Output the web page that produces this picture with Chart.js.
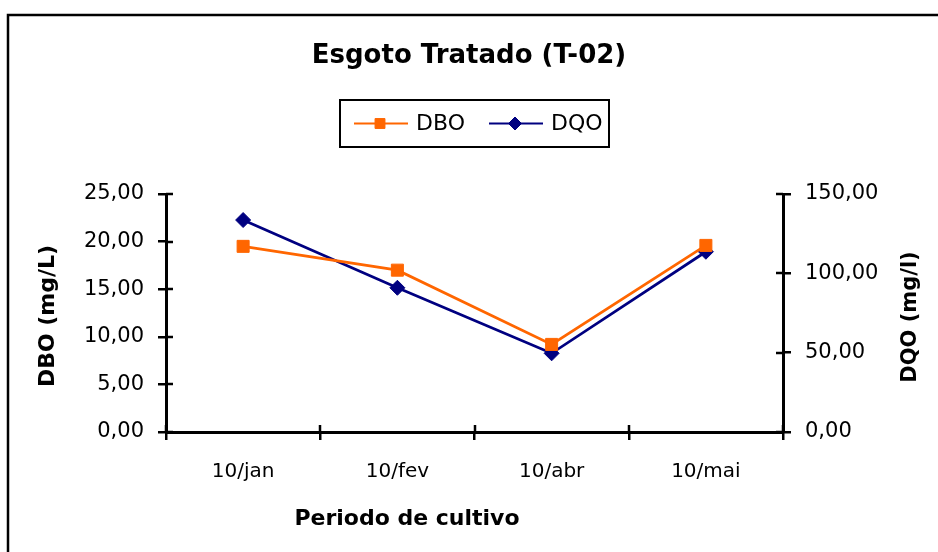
<!DOCTYPE html>
<html>
<head>
<meta charset="utf-8">
<script src="https://cdn.jsdelivr.net/npm/chart.js@4.4.1/dist/chart.umd.min.js"></script>
<style>
  html, body { margin: 0; padding: 0; background: #fff; overflow: hidden; }
  #wrap { width: 938px; height: 552px; position: relative; }
</style>
</head>
<body>
<div id="wrap"><canvas id="c" width="938" height="552"></canvas></div>
<script>
// Sampling dates and measured values
const categories = ['10/jan', '10/fev', '10/abr', '10/mai'];
const dboValues = [19.5, 17.0, 9.2, 19.6];       // mg/L, left axis
const dqoValues = [133.6, 90.9, 49.6, 113.6];    // mg/l, right axis
const dboTicks = [0, 5, 10, 15, 20, 25];
const dqoTicks = [0, 50, 100, 150];

const chartTitle = 'Esgoto Tratado (T-02)';
const xTitle = 'Periodo de cultivo';
const yTitle = 'DBO (mg/L)';
const y1Title = 'DQO (mg/l)';

const FONT = 'DejaVu Sans';
const fmt = v => Number(v).toFixed(2).replace('.', ',');

// Outer frame, axis titles and the boxed legend
const decorations = {
  id: 'decorations',
  beforeDraw(chart) {
    const ctx = chart.ctx;
    ctx.save();
    ctx.strokeStyle = '#000';
    ctx.lineWidth = 2.5;
    ctx.beginPath();
    ctx.moveTo(8, 560);
    ctx.lineTo(8, 15);
    ctx.lineTo(950, 15);
    ctx.stroke();
    ctx.restore();
  },
  afterDraw(chart) {
    const ctx = chart.ctx, a = chart.chartArea;
    ctx.save();
    ctx.fillStyle = '#000';
    ctx.font = 'bold 22px "' + FONT + '"';
    ctx.textAlign = 'center';
    ctx.textBaseline = 'middle';
    // x title
    ctx.fillText(xTitle, a.left + 241, a.bottom + 87);
    // left y title
    ctx.save();
    ctx.translate(48, (a.top + a.bottom) / 2 + 3);
    ctx.rotate(-Math.PI / 2);
    ctx.fillText(yTitle, 0, 0);
    ctx.restore();
    // right y title
    ctx.save();
    ctx.translate(911, (a.top + a.bottom) / 2 + 4);
    ctx.rotate(-Math.PI / 2);
    ctx.font = 'bold 21px "' + FONT + '"';
    ctx.fillText(y1Title, 0, 0);
    ctx.restore();

    // legend box
    const w = 269, h = 47;
    const x0 = Math.round((a.left + a.right) / 2 - w / 2);
    const y0 = a.top - 94;
    const cy = y0 + h / 2;
    ctx.strokeStyle = '#000';
    ctx.lineWidth = 2;
    ctx.strokeRect(x0, y0, w, h);
    const items = [{ ds: chart.data.datasets[0], lx: 14, r: 7 }, { ds: chart.data.datasets[1], lx: 149, r: 6.5 }];
    ctx.font = '22px "' + FONT + '"';
    ctx.textAlign = 'left';
    items.forEach(it => {
      const ds = it.ds;
      ctx.strokeStyle = ds.borderColor;
      ctx.lineWidth = 2;
      ctx.beginPath();
      ctx.moveTo(x0 + it.lx, cy);
      ctx.lineTo(x0 + it.lx + 54, cy);
      ctx.stroke();
      ctx.fillStyle = ds.pointBackgroundColor;
      ctx.strokeStyle = ds.pointBorderColor;
      ctx.lineWidth = 1;
      Chart.helpers.drawPoint(ctx, { pointStyle: ds.pointStyle, radius: it.r, rotation: 0, borderWidth: 1 }, x0 + it.lx + 26, cy);
      ctx.fillStyle = '#000';
      ctx.fillText(ds.label, x0 + it.lx + 62, cy + 1);
    });
    ctx.restore();
  }
};

// Tick marks that cross the axis lines
const crossTicks = {
  id: 'crossTicks',
  beforeDatasetsDraw(chart) {
    const ctx = chart.ctx, a = chart.chartArea;
    const sy = chart.scales.y, sy1 = chart.scales.y1, sx = chart.scales.x;
    ctx.save();
    ctx.strokeStyle = '#000';
    ctx.lineWidth = 2.5;
    ctx.beginPath();
    sy.ticks.forEach((t, i) => { const p = Math.round(sy.getPixelForTick(i)); ctx.moveTo(a.left, p); ctx.lineTo(a.left + 7, p); });
    sy1.ticks.forEach((t, i) => { const p = Math.round(sy1.getPixelForTick(i)); ctx.moveTo(a.right, p); ctx.lineTo(a.right - 7, p); });
    for (let i = 0; i <= sx.ticks.length; i++) {
      const p = Math.round(sx.getPixelForValue(i - 0.5));
      ctx.moveTo(p, a.bottom); ctx.lineTo(p, a.bottom - 7);
    }
    ctx.stroke();
    ctx.restore();
  }
};

const axisGrid = { display: true, drawOnChartArea: false, drawTicks: true, tickLength: 8, color: '#000', lineWidth: 2.5 };
const axisBorder = { display: true, color: '#000', width: 3 };

new Chart(document.getElementById('c'), {
  type: 'line',
  data: {
    labels: categories,
    datasets: [
      {
        label: 'DBO',
        data: dboValues,
        yAxisID: 'y',
        borderColor: '#FF6600',
        backgroundColor: '#FF6600',
        pointBackgroundColor: '#FF6600',
        pointBorderColor: '#FF6600',
        borderWidth: 2.75,
        pointStyle: 'rect',
        pointRadius: 8.5,
        pointBorderWidth: 1,
        tension: 0
      },
      {
        label: 'DQO',
        data: dqoValues,
        yAxisID: 'y1',
        borderColor: '#000080',
        backgroundColor: '#000080',
        pointBackgroundColor: '#000080',
        pointBorderColor: '#000080',
        borderWidth: 2.75,
        pointStyle: 'rectRot',
        pointRadius: 7.5,
        pointBorderWidth: 1,
        tension: 0
      }
    ]
  },
  options: {
    responsive: false,
    animation: false,
    devicePixelRatio: 1,
    layout: { padding: 0 },
    plugins: {
      legend: { display: false },
      tooltip: { enabled: false },
      title: {
        display: true,
        text: chartTitle,
        color: '#000',
        font: { family: FONT, size: 26, weight: 'bold' },
        padding: { top: 41, bottom: 121.8 }
      }
    },
    scales: {
      x: {
        type: 'category',
        offset: true,
        grid: Object.assign({}, axisGrid, { offset: true }),
        border: axisBorder,
        ticks: { color: '#000', font: { family: FONT, size: 20 }, padding: 20, maxRotation: 0, autoSkip: false },
        afterFit: s => { s.height = 120; }
      },
      y: {
        position: 'left',
        min: 0, max: 25,
        grid: axisGrid,
        border: axisBorder,
        afterBuildTicks: s => { s.ticks = dboTicks.map(v => ({ value: v })); },
        ticks: { color: '#000', font: { family: FONT, size: 21 }, padding: 14, callback: v => fmt(v) },
        afterFit: s => { s.width = 166; }
      },
      y1: {
        position: 'right',
        min: 0, max: 150,
        grid: axisGrid,
        border: axisBorder,
        afterBuildTicks: s => { s.ticks = dqoTicks.map(v => ({ value: v })); },
        ticks: { color: '#000', font: { family: FONT, size: 21 }, padding: 14, callback: v => fmt(v) },
        afterFit: s => { s.width = 155; }
      }
    }
  },
  plugins: [decorations, crossTicks]
});
</script>
</body>
</html>
